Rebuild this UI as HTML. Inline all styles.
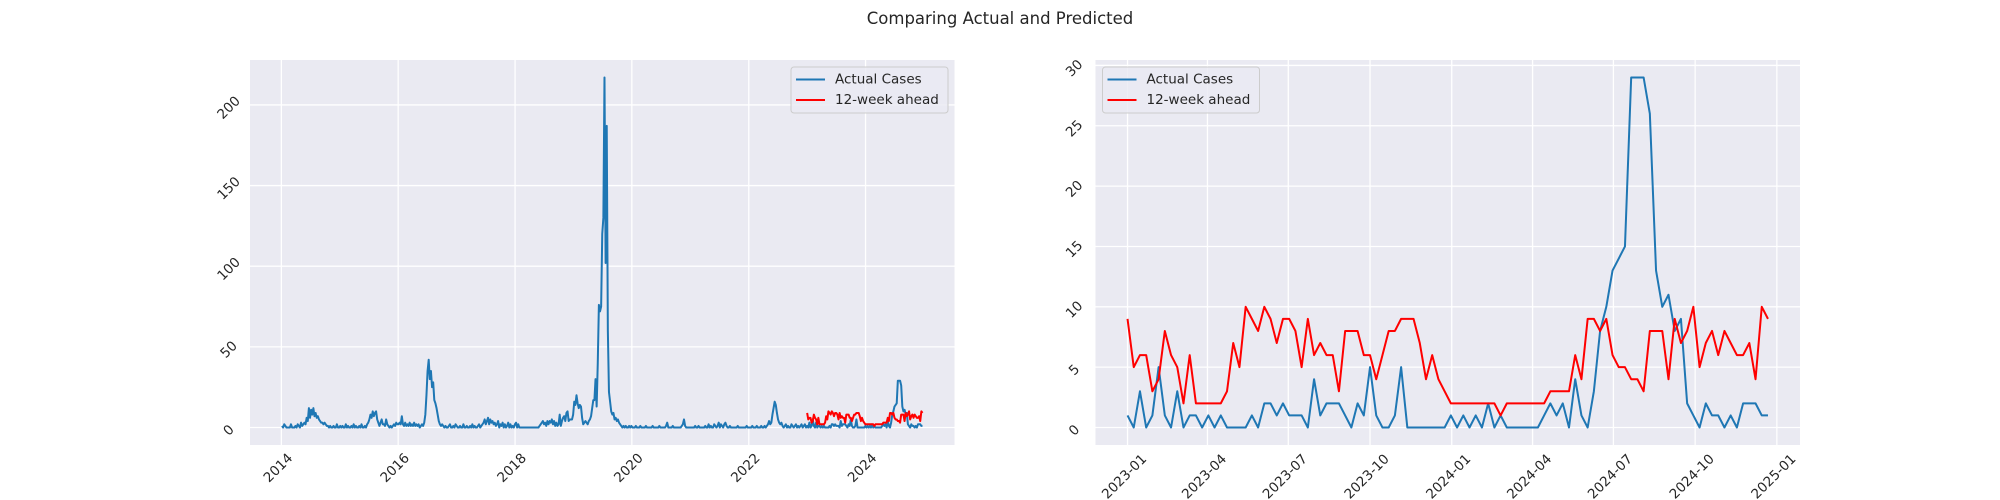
<!DOCTYPE html>
<html><head><meta charset="utf-8"><style>
html,body{margin:0;padding:0;background:#fff;}
svg{display:block;font-family:"DejaVu Sans","Liberation Sans",sans-serif;}
</style></head><body>
<svg id="fig" width="2000" height="500" viewBox="0 0 2000 500">
<text x="1000" y="24" text-anchor="middle" font-size="16.5" fill="#262626">Comparing Actual and Predicted</text>
</svg>
<script>
// ---- data ----
const histStart = "2014-01-05";
const predStart = "2023-01-01";
const histA = [1,0,2,1,0,0,0,0,2,0,0,0,1,0,2,1,0,3,1,2];
const histB = [3,2,6,4,12,6,11,8,12,7,9,6,7,5,4,3,3,2,3];
const histC = [2,1,1,0,1,0,0,1,0,0,2,0,0,1,0,1,0,0,2,0,1,0,0,1,0,2,0,1,0,0,1,0,2,0,0,1,0,2,3];
const histD = [5,8,6,10,7,9,10,5,3,1,3,5,2,2,1,5,2,1,0];
const histE = [1,0,1,2,1,3,2,2,3,2,7,2,1,3,1,2,1,3,1,2,1,3,1,2,1,2,0,1,2,1,3,8];
const histF = [20,35,42,30,35,25,28,17,15,12,8,4,2,1];
const histG = [2,1,0,1,0,0,1,2,0,0,1,0,2,1,0,0,1,0,0,2,0,0,1,0,0,1,0,2,0,1,0,0,1,2,0,1,2,3];
const histH = [5,2,4,6,2,5,3,4,2,3,1,2,4,0,2,1,3,0,2,0];
const histI = [1,3,0,2,0,1,0,2,3,0,2,0,0,0,0];
const histJ = [0,0,0,0,0,0,0,0,0,0,0,0,0,0];
const histK = [1,2,3,4,2,3,1,4,2,4,3,5,2,4,1,3,1];
const histL = [2,8,1,4,6,7,4,9,10,4,5,5,5,8,16,14];
const histM = [20,15,12,14,13,6,2,3,4,3,2,4,5,7,12,17];
const histN = [17,30,13,40,76,72,75,120,130,217,102,187,60,22,16,10,8,9,5,6,4,5,3,2,1];
const histO = [0,1,0,1,0,0,1,0,1,0, 0,0,1,0,0,0,1,0,0,0, 0,1,0,0,0,0,0,1,0,0, 0,0,0,1,0,0,0,0,0,1,
  3,0,0,0,0,1,0,0,0,0, 0,0,0,1,2,5,1,0,0,0, 0,0,0,0,0,1,0,0,1,0, 0,0,0,0,1,0,0,2,0,1, 0,0,2,1,0,1,3,0,2,1, 0,2];
const histP = [3,1,0,0,1,0,0,0,0,0,0,1,0,0,0,0,0,0,0,1,0,0,0,0,1,0,0,0,1,0,0,0,1,0,0,1,0];
const histQ = [1,2,4,2,3,8,12,16,14,9,5,3,2,3];
const histR = [1,0,1,2,0,1,0,0,2,1,0,1,2,0,1,0,1,2,0,1,2,0];
const actualRecent = [1,0,3,0,1,5,1,0,3,0,1,1,0,1,0,1,0,0,0,0,1,0,2,2,1,2,1,1,1,0,4,1,2,2,
  2,1,0,2,1,5,1,0,0,1,5,0,0,0,0,0,0,0,1,0,1,0,1,0,2,0,1,0,0,0,0,0,0,1,2,1,2,
  0,4,1,0,3,8,10,13,14,15,29,29,29,26,13,10,11,8,9,2,1,0,2,1,1,0,1,0,2,2,2,1,1];
const predicted = [9,5,6,6,3,4,8,6,5,2,6,2,2,2,2,2,3,7,5,10,9,8,10,9,7,9,9,8,5,9,6,7,6,6,
  3,8,8,8,6,6,4,6,8,8,9,9,9,7,4,6,4,3,2,2,2,2,2,2,2,2,1,2,2,2,2,2,2,2,3,3,3,
  3,6,4,9,9,8,9,6,5,5,4,4,3,8,8,8,4,9,7,8,10,5,7,8,6,8,7,6,6,7,4,10,9];
const leftYTicks = [0,50,100,150,200];
const leftXTicks = ["2014","2016","2018","2020","2022","2024"];
const rightYTicks = [0,5,10,15,20,25,30];
const rightXTicks = ["2023-01","2023-04","2023-07","2023-10","2024-01","2024-04","2024-07","2024-10","2025-01"];
const seriesNames = ["Actual Cases","12-week ahead"];

const actualAll = [].concat(histA,histB,histC,histD,histE,histF,histG,histH,histI,histJ,histK,histL,histM,histN,histO,histP,histQ,histR,actualRecent);

const NS="http://www.w3.org/2000/svg";
const svg=document.getElementById('fig');
const DAY=86400000;
function d(s){return Date.parse(s+(s.length===7?"-01":"")+"T00:00:00Z")/DAY;}
function weekly(start,n){const s=d(start);const a=[];for(let i=0;i<n;i++)a.push(s+7*i);return a;}
function mk(tag,attrs,parent){const e=document.createElementNS(NS,tag);for(const k in attrs)e.setAttribute(k,attrs[k]);(parent||svg).appendChild(e);return e;}

function drawPanel(cfg){
  const {x0,x1,y0,y1}=cfg;
  const dmin=Math.min(...cfg.allX), dmax=Math.max(...cfg.allX);
  const xpad=(dmax-dmin)*0.05;
  const xs=v=>x0+(v-(dmin-xpad))/((dmax-dmin)+2*xpad)*(x1-x0);
  const ys=v=>y1-(v-cfg.ymin)/(cfg.ymax-cfg.ymin)*(y1-y0);
  const g=mk('g',{});
  
  
  const bg=mk('rect',{x:x0,y:y0,width:x1-x0,height:y1-y0,fill:'#eaeaf2'},g);
  
  
  cfg.yticks.forEach(t=>{
    const y=ys(t);
    const l=mk('line',{x1:x0,x2:x1,y1:y,y2:y,stroke:'#fff','stroke-width':1.3},g);
    
    
    const cx=x0-21, cy=y+3;
    const tx=mk('text',{x:cx,y:cy,'text-anchor':'middle','dominant-baseline':'central','font-size':13.5,fill:'#262626',transform:`rotate(-45 ${cx} ${cy})`},g);
    tx.textContent=t;
    
    
  });
  cfg.xticks.forEach((t,i)=>{
    const x=xs(d(t));
    const l=mk('line',{x1:x,x2:x,y1:y0,y2:y1,stroke:'#fff','stroke-width':1.3},g);
    
    
    const lab=cfg.xlabels[i];
    const w=lab.length*8.2+10;
    const cx=x-3, cy=y1+8+w*0.707/2;
    const tx=mk('text',{x:cx,y:cy,'text-anchor':'middle','dominant-baseline':'central','font-size':13.5,fill:'#262626',transform:`rotate(-45 ${cx} ${cy})`},g);
    tx.textContent=lab;
    
    
  });
  const clip=mk('clipPath',{id:cfg.name+'-clip'},g);
  mk('rect',{x:x0,y:y0,width:x1-x0,height:y1-y0},clip);
  cfg.series.forEach(s=>{
    const pts=s.x.map((v,i)=>xs(v).toFixed(2)+','+ys(s.y[i]).toFixed(2)).join(' ');
    const pl=mk('polyline',{points:pts,fill:'none',stroke:s.color,'stroke-width':2,'stroke-linejoin':'round','clip-path':`url(#${cfg.name}-clip)`},g);
    
    
  });
  const lx=cfg.legX, ly=67;
  const lg=mk('g',{},g);
  
  
  mk('rect',{x:lx,y:ly,width:157,height:46,rx:3,fill:'#eaeaf2','fill-opacity':0.8,stroke:'#cccccc','stroke-width':1},lg);
  cfg.series.forEach((s,i)=>{
    const yy=ly+12.5+i*20.5;
    const en=mk('g',{},lg);
    
    
    mk('line',{x1:lx+5,x2:lx+34,y1:yy,y2:yy,stroke:s.color,'stroke-width':2},en);
    const t=mk('text',{x:lx+44,y:yy,'dominant-baseline':'central','font-size':13.5,fill:'#262626'},en);
    t.textContent=seriesNames[i];
  });
}

const xAll=weekly(histStart,actualAll.length);
const xPred=weekly(predStart,predicted.length);
const xRecent=weekly(predStart,actualRecent.length);

drawPanel({name:'left-chart',x0:250,x1:954.5,y0:60,y1:445,ymin:-10.85,ymax:227.85,
  allX:xAll.concat(xPred),yticks:leftYTicks,xticks:leftXTicks.map(s=>s+"-01-01"),xlabels:leftXTicks,legX:791,
  series:[{x:xAll,y:actualAll,color:'#1f77b4',dn:'actual-cases-line'},{x:xPred,y:predicted,color:'#ff0000',dn:'predicted-line'}]});

drawPanel({name:'right-chart',x0:1095.5,x1:1800,y0:60,y1:445,ymin:-1.45,ymax:30.45,
  allX:xRecent.concat(xPred),yticks:rightYTicks,xticks:rightXTicks,xlabels:rightXTicks,legX:1102.5,
  series:[{x:xRecent,y:actualRecent,color:'#1f77b4',dn:'actual-cases-line'},{x:xPred,y:predicted,color:'#ff0000',dn:'predicted-line'}]});
</script>
</body></html>
